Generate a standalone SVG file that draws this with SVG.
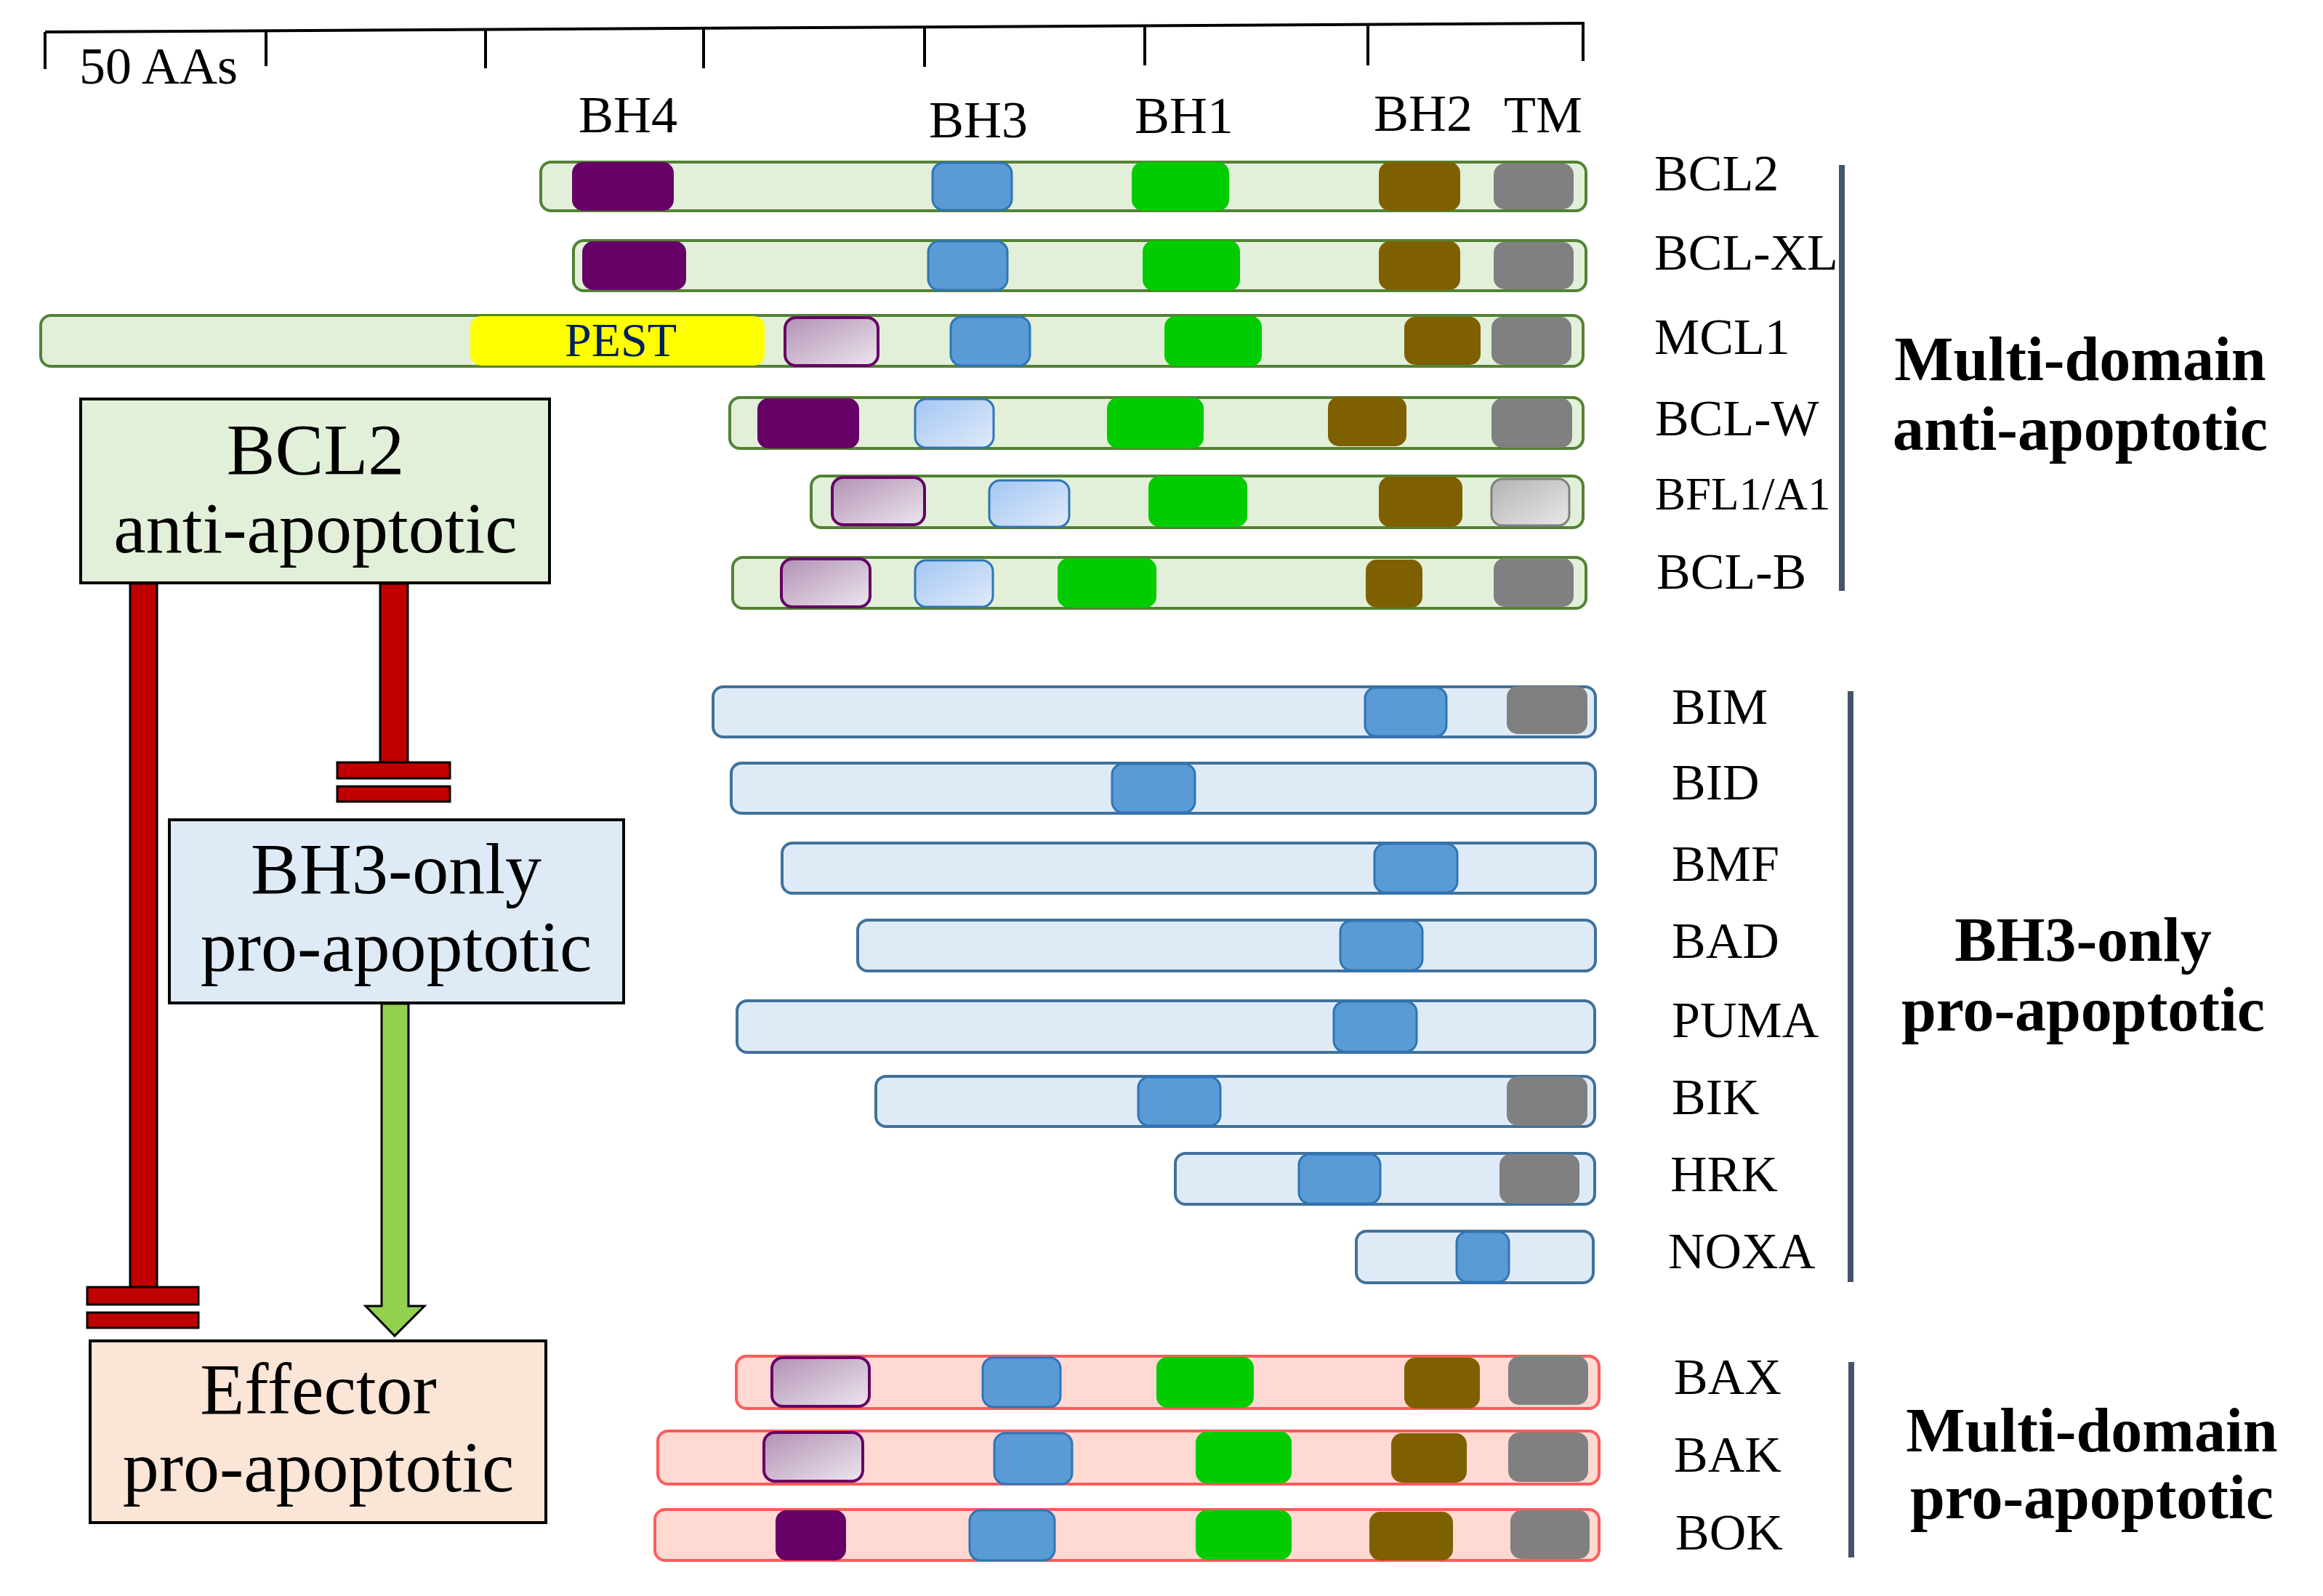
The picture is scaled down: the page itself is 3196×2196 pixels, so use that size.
<svg xmlns="http://www.w3.org/2000/svg" width="3196" height="2196" viewBox="0 0 3196 2196">
<defs>
<linearGradient id="gP" x1="0" y1="0" x2="1" y2="1"><stop offset="0" stop-color="#B291B4"/><stop offset="1" stop-color="#ECE6EE"/></linearGradient>
<linearGradient id="gB" x1="0" y1="0" x2="1" y2="1"><stop offset="0" stop-color="#A3C6F3"/><stop offset="1" stop-color="#E0EBFA"/></linearGradient>
<linearGradient id="gG" x1="0" y1="0" x2="1" y2="1"><stop offset="0" stop-color="#B3B3B3"/><stop offset="1" stop-color="#E8E8E8"/></linearGradient>
<style>
.t{font-family:"Liberation Serif","DejaVu Serif",serif;fill:#000}
.lab{font-size:70px}
.rul{font-size:72px}
.box{font-size:100px}
.grp{font-size:86px;font-weight:bold}
.ba{fill:#E2F0D9;stroke:#548235;stroke-width:4}
.bb{fill:#DEEBF7;stroke:#41719C;stroke-width:4}
.bp{fill:#FFD9D2;stroke:#FF5B5B;stroke-width:4}
.h4{fill:#660066}
.h3{fill:#5B9BD5;stroke:#2E75B6;stroke-width:3}
.h3l{fill:url(#gB);stroke:#2E75B6;stroke-width:3}
.h1{fill:#00CC00}
.h2{fill:#7F6000}
.tm{fill:#808080}
.tml{fill:url(#gG);stroke:#808080;stroke-width:3}
.pg{fill:url(#gP);stroke:#660066;stroke-width:4}
.nb{stroke:#000;stroke-width:4}
.inh{fill:#C00000;stroke:#000;stroke-width:3}
.vl{stroke:#44546A;stroke-width:8}
</style>
</defs>
<rect width="3196" height="2196" fill="#fff"/>

<g id="ruler" fill="none" stroke="#000" stroke-width="4">
<path d="M62,44 L2180,32"/>
<path d="M62,44 V95 M366,42 V91 M668,40 V94 M968,39 V94 M1272,37 V92 M1575,35 V90 M1882,34 V90 M2178,32 V84"/>
</g>
<g id="ruler-labels" class="t rul">
<text x="109" y="115">50 AAs</text>
<text x="864" y="182" text-anchor="middle">BH4</text>
<text x="1346" y="189" text-anchor="middle">BH3</text>
<text x="1629" y="183" text-anchor="middle">BH1</text>
<text x="1958" y="180" text-anchor="middle">BH2</text>
<text x="2123" y="182" text-anchor="middle">TM</text>
</g>

<!-- anti-apoptotic proteins -->
<g id="BCL2-protein">
<rect class="ba" x="744" y="223" width="1438" height="67" rx="14"/>
<rect class="h4" x="787" y="223" width="140" height="67" rx="15"/>
<rect class="h3" x="1283" y="224" width="109" height="65" rx="15"/>
<rect class="h1" x="1557" y="223" width="134" height="67" rx="15"/>
<rect class="h2" x="1897" y="223" width="112" height="67" rx="15"/>
<rect class="tm" x="2055" y="225" width="110" height="63" rx="15"/>
<text class="t lab" x="2276" y="262">BCL2</text>
</g>
<g id="BCL-XL-protein">
<rect class="ba" x="789" y="331" width="1393" height="69" rx="14"/>
<rect class="h4" x="801" y="332" width="143" height="67" rx="15"/>
<rect class="h3" x="1277" y="332" width="109" height="67" rx="15"/>
<rect class="h1" x="1572" y="331" width="134" height="69" rx="15"/>
<rect class="h2" x="1897" y="332" width="112" height="67" rx="15"/>
<rect class="tm" x="2055" y="333" width="110" height="65" rx="15"/>
<text class="t lab" x="2276" y="371">BCL-XL</text>
</g>
<g id="MCL1-protein">
<rect class="ba" x="56" y="434" width="2122" height="70" rx="14"/>
<rect x="647" y="435" width="405" height="68" rx="15" fill="#FFFF00"/>
<text class="t" x="854" y="490" text-anchor="middle" font-size="66" style="fill:#002060">PEST</text>
<rect class="pg" x="1080" y="437" width="128" height="66" rx="15"/>
<rect class="h3" x="1308" y="436" width="109" height="67" rx="15"/>
<rect class="h1" x="1602" y="435" width="134" height="69" rx="15"/>
<rect class="h2" x="1932" y="436" width="105" height="66" rx="15"/>
<rect class="tm" x="2052" y="436" width="110" height="66" rx="15"/>
<text class="t lab" x="2276" y="487">MCL1</text>
</g>
<g id="BCL-W-protein">
<rect class="ba" x="1004" y="547" width="1174" height="70" rx="14"/>
<rect class="h4" x="1042" y="548" width="140" height="69" rx="15"/>
<rect class="h3l" x="1259" y="549" width="108" height="67" rx="15"/>
<rect class="h1" x="1523" y="547" width="133" height="70" rx="15"/>
<rect class="h2" x="1827" y="546" width="108" height="68" rx="15"/>
<rect class="tm" x="2052" y="548" width="111" height="68" rx="15"/>
<text class="t lab" x="2277" y="599">BCL-W</text>
</g>
<g id="BFL1-A1-protein">
<rect class="ba" x="1116" y="655" width="1062" height="71" rx="14"/>
<rect class="pg" x="1145" y="657" width="127" height="65" rx="15"/>
<rect class="h3l" x="1361" y="661" width="110" height="64" rx="15"/>
<rect class="h1" x="1580" y="655" width="136" height="70" rx="15"/>
<rect class="h2" x="1897" y="656" width="115" height="69" rx="15"/>
<rect class="tml" x="2052" y="659" width="107" height="64" rx="15"/>
<text class="t" x="2277" y="701" font-size="63">BFL1/A1</text>
</g>
<g id="BCL-B-protein">
<rect class="ba" x="1008" y="767" width="1174" height="70" rx="14"/>
<rect class="pg" x="1075" y="769" width="122" height="66" rx="15"/>
<rect class="h3l" x="1259" y="771" width="107" height="64" rx="15"/>
<rect class="h1" x="1455" y="768" width="136" height="68" rx="15"/>
<rect class="h2" x="1879" y="770" width="78" height="66" rx="15"/>
<rect class="tm" x="2055" y="768" width="110" height="67" rx="15"/>
<text class="t lab" x="2279" y="810">BCL-B</text>
</g>

<!-- BH3-only proteins -->
<g id="BIM-protein">
<rect class="bb" x="981" y="945" width="1214" height="69" rx="14"/>
<rect class="h3" x="1878" y="946" width="112" height="67" rx="15"/>
<rect class="tm" x="2073" y="944" width="111" height="66" rx="15"/>
<text class="t lab" x="2300" y="996">BIM</text>
</g>
<g id="BID-protein">
<rect class="bb" x="1006" y="1050" width="1189" height="69" rx="14"/>
<rect class="h3" x="1530" y="1051" width="114" height="67" rx="15"/>
<text class="t lab" x="2300" y="1100">BID</text>
</g>
<g id="BMF-protein">
<rect class="bb" x="1076" y="1160" width="1119" height="69" rx="14"/>
<rect class="h3" x="1891" y="1161" width="114" height="67" rx="15"/>
<text class="t lab" x="2300" y="1212">BMF</text>
</g>
<g id="BAD-protein">
<rect class="bb" x="1180" y="1266" width="1015" height="70" rx="14"/>
<rect class="h3" x="1844" y="1267" width="113" height="68" rx="15"/>
<text class="t lab" x="2300" y="1318">BAD</text>
</g>
<g id="PUMA-protein">
<rect class="bb" x="1014" y="1377" width="1180" height="71" rx="14"/>
<rect class="h3" x="1835" y="1378" width="114" height="69" rx="15"/>
<text class="t lab" x="2300" y="1427">PUMA</text>
</g>
<g id="BIK-protein">
<rect class="bb" x="1205" y="1481" width="989" height="69" rx="14"/>
<rect class="h3" x="1566" y="1482" width="113" height="67" rx="15"/>
<rect class="tm" x="2073" y="1481" width="111" height="68" rx="15"/>
<text class="t lab" x="2300" y="1533">BIK</text>
</g>
<g id="HRK-protein">
<rect class="bb" x="1617" y="1587" width="577" height="70" rx="14"/>
<rect class="h3" x="1787" y="1588" width="112" height="68" rx="15"/>
<rect class="tm" x="2063" y="1588" width="110" height="68" rx="15"/>
<text class="t lab" x="2298" y="1639">HRK</text>
</g>
<g id="NOXA-protein">
<rect class="bb" x="1866" y="1694" width="326" height="71" rx="14"/>
<rect class="h3" x="2004" y="1695" width="72" height="69" rx="15"/>
<text class="t lab" x="2295" y="1745">NOXA</text>
</g>

<!-- multi-domain pro-apoptotic proteins -->
<g id="BAX-protein">
<rect class="bp" x="1013" y="1866" width="1187" height="72" rx="14"/>
<rect class="pg" x="1062" y="1868" width="134" height="67" rx="15"/>
<rect class="h3" x="1352" y="1868" width="107" height="68" rx="15"/>
<rect class="h1" x="1591" y="1867" width="134" height="70" rx="15"/>
<rect class="h2" x="1932" y="1868" width="104" height="70" rx="15"/>
<rect class="tm" x="2075" y="1866" width="110" height="67" rx="15"/>
<text class="t lab" x="2303" y="1918">BAX</text>
</g>
<g id="BAK-protein">
<rect class="bp" x="905" y="1969" width="1295" height="73" rx="14"/>
<rect class="pg" x="1051" y="1971" width="136" height="67" rx="15"/>
<rect class="h3" x="1368" y="1972" width="107" height="70" rx="15"/>
<rect class="h1" x="1645" y="1970" width="132" height="71" rx="15"/>
<rect class="h2" x="1914" y="1972" width="104" height="68" rx="15"/>
<rect class="tm" x="2075" y="1971" width="110" height="68" rx="15"/>
<text class="t lab" x="2303" y="2025">BAK</text>
</g>
<g id="BOK-protein">
<rect class="bp" x="901" y="2077" width="1299" height="70" rx="14"/>
<rect class="h4" x="1067" y="2078" width="97" height="69" rx="15"/>
<rect class="h3" x="1334" y="2078" width="117" height="69" rx="15"/>
<rect class="h1" x="1645" y="2078" width="132" height="68" rx="15"/>
<rect class="h2" x="1884" y="2080" width="115" height="67" rx="15"/>
<rect class="tm" x="2078" y="2078" width="109" height="67" rx="15"/>
<text class="t lab" x="2305" y="2132">BOK</text>
</g>

<!-- group brackets and titles -->
<g id="group-anti">
<line class="vl" x1="2534" y1="227" x2="2534" y2="813"/>
<text class="t grp" x="2862" y="523" text-anchor="middle">Multi-domain</text>
<text class="t grp" x="2862" y="619" text-anchor="middle">anti-apoptotic</text>
</g>
<g id="group-bh3">
<line class="vl" x1="2546" y1="951" x2="2546" y2="1764"/>
<text class="t grp" x="2866" y="1322" text-anchor="middle">BH3-only</text>
<text class="t grp" x="2866" y="1418" text-anchor="middle">pro-apoptotic</text>
</g>
<g id="group-pro">
<line class="vl" x1="2547" y1="1874" x2="2547" y2="2143"/>
<text class="t grp" x="2878" y="1997" text-anchor="middle">Multi-domain</text>
<text class="t grp" x="2878" y="2089" text-anchor="middle">pro-apoptotic</text>
</g>

<!-- left scheme connectors -->
<g id="connectors">
<rect class="inh" x="179" y="803" width="37" height="968"/>
<rect class="inh" x="120" y="1771" width="153" height="24"/>
<rect class="inh" x="120" y="1806" width="153" height="21"/>
<rect class="inh" x="523" y="803" width="38" height="246"/>
<rect class="inh" x="464" y="1049" width="155" height="22"/>
<rect class="inh" x="464" y="1082" width="155" height="21"/>
<path d="M525,1381 H562 V1797 H584 L543,1838 L503,1797 H525 Z" fill="#92D050" stroke="#000" stroke-width="3" stroke-linejoin="miter"/>
</g>

<!-- left scheme nodes -->
<g id="node-bcl2">
<rect class="nb" x="111" y="549" width="645" height="253" fill="#E2F0D9"/>
<text class="t box" x="434" y="652" text-anchor="middle">BCL2</text>
<text class="t box" x="434" y="760" text-anchor="middle">anti-apoptotic</text>
</g>
<g id="node-bh3">
<rect class="nb" x="233" y="1128" width="625" height="252" fill="#DEEBF7"/>
<text class="t box" x="545" y="1229" text-anchor="middle">BH3-only</text>
<text class="t box" x="545" y="1336" text-anchor="middle">pro-apoptotic</text>
</g>
<g id="node-effector">
<rect class="nb" x="124" y="1845" width="627" height="250" fill="#FBE5D6"/>
<text class="t box" x="438" y="1945" text-anchor="middle">Effector</text>
<text class="t box" x="438" y="2052" text-anchor="middle">pro-apoptotic</text>
</g>
</svg>
